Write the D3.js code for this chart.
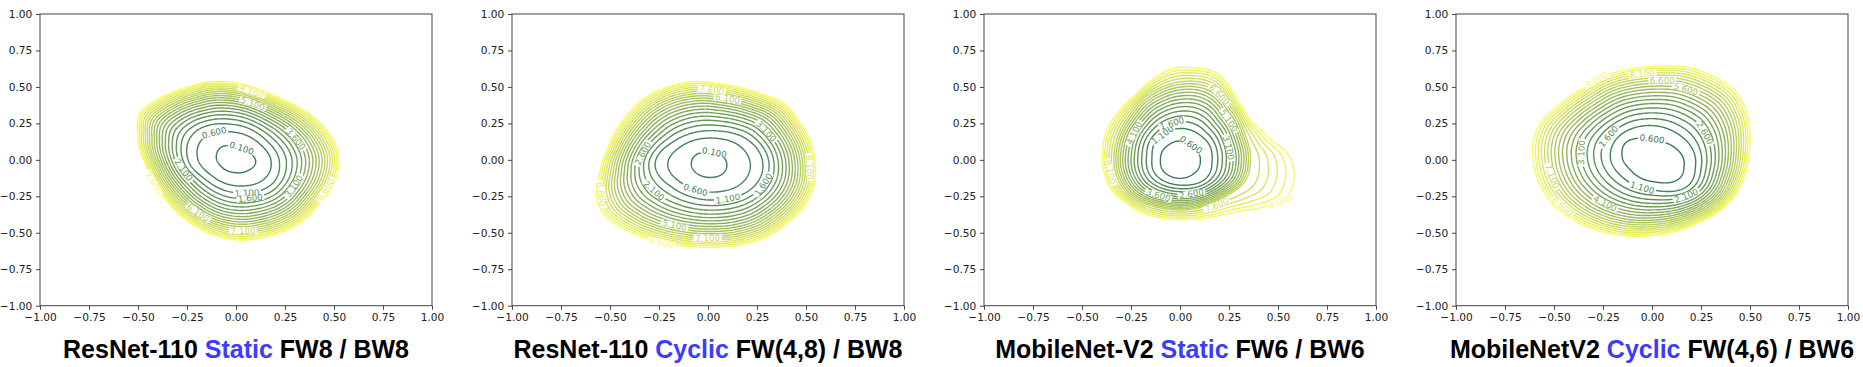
<!DOCTYPE html>
<html>
<head>
<meta charset="utf-8">
<script src="https://cdn.jsdelivr.net/npm/d3@7"></script>
<style>
  body { margin: 0; background: #fff; }
  svg { display: block; }
</style>
</head>
<body>
<svg id="chart" width="1863" height="367"></svg>
<script>
// contour levels and axis ticks
const levels = [0.1, 0.6, 1.1, 1.6, 2.1, 2.6, 3.1, 3.6, 4.1, 4.6, 5.1, 5.6, 6.1, 6.6, 7.1, 7.6, 8.1, 8.6, 9.1, 9.6];
const ticks = [-1, -0.75, -0.5, -0.25, 0, 0.25, 0.5, 0.75, 1];

// titles
const titlePre = ["ResNet-110 ", "ResNet-110 ", "MobileNet-V2 ", "MobileNetV2 "];
const titleMode = ["Static", "Cyclic", "Static", "Cyclic"];
const titlePost = [" FW8 / BW8", " FW(4,8) / BW8", " FW6 / BW6", " FW(4,6) / BW6"];

// centre of each landscape, lowest drawn level
const centers = [[0, 0], [0.01, -0.03], [0, 0], [0, 0]];
const minLevel = [0.1, 0.1, 0.6, 0.6];

// key contours (x, y in plot units)
const p1L01 = [[0.10,-0.02],[0.07,0.05],[0.0,0.09],[-0.07,0.09],[-0.10,0.03],[-0.08,-0.04],[-0.02,-0.085],[0.05,-0.08]];
const p1L11 = [[0.22,0.0],[0.15,0.14],[0.0,0.24],[-0.2,0.2],[-0.245,0.0],[-0.16,-0.13],[0.0,-0.225],[0.17,-0.18]];
const p1L96 = [[-0.116,0.536],[0.206,0.433],[0.393,0.296],[0.495,0.136],[0.526,0.022],[0.512,-0.115],[0.427,-0.298],
  [0.325,-0.435],[0.155,-0.527],[0.036,-0.55],[-0.116,-0.515],[-0.252,-0.413],[-0.371,-0.253],[-0.456,-0.047],
  [-0.499,0.182],[-0.49,0.319],[-0.405,0.41],[-0.252,0.497]];

const p2L01 = [[0.096,-0.03],[0.07,0.03],[0.0,0.055],[-0.065,0.03],[-0.085,-0.03],[-0.06,-0.09],[0.0,-0.12],[0.07,-0.10]];
const p2L11 = [[0.28,-0.03],[0.2,0.14],[0.03,0.2],[-0.17,0.13],[-0.27,-0.03],[-0.17,-0.2],[0.04,-0.275],[0.22,-0.2]];
const p2L96 = [[-0.569,-0.23],[-0.552,-0.093],[-0.509,0.09],[-0.432,0.273],[-0.313,0.433],[-0.176,0.513],[-0.04,0.536],
  [0.096,0.513],[0.267,0.456],[0.386,0.387],[0.471,0.25],[0.531,0.09],[0.548,-0.047],[0.54,-0.184],[0.488,-0.321],
  [0.403,-0.435],[0.301,-0.527],[0.164,-0.584],[0.011,-0.6],[-0.159,-0.584],[-0.313,-0.538],[-0.449,-0.458],[-0.534,-0.367]];

const p3L06 = [[0.104,0.0],[0.07,0.09],[0.0,0.13],[-0.07,0.09],[-0.1,0.0],[-0.075,-0.09],[0.0,-0.127],[0.075,-0.09]];
const p3L11 = [[0.164,0.0],[0.12,0.15],[0.01,0.215],[-0.1,0.16],[-0.143,0.02],[-0.11,-0.12],[0.0,-0.173],[0.12,-0.14]];
const p3L71 = [[0.36,0.0],[0.33,0.18],[0.26,0.36],[0.17,0.5],[0.05,0.54],[-0.12,0.48],[-0.26,0.3],[-0.33,0.1],
  [-0.33,-0.08],[-0.25,-0.25],[-0.1,-0.33],[0.05,-0.34],[0.22,-0.26],[0.33,-0.15]];
const p3L96 = [[0.053,0.632],[0.172,0.605],[0.24,0.525],[0.291,0.41],[0.359,0.273],[0.462,0.136],[0.547,0.045],
  [0.581,-0.07],[0.572,-0.184],[0.53,-0.275],[0.428,-0.321],[0.291,-0.355],[0.172,-0.39],[0.053,-0.408],
  [-0.083,-0.401],[-0.186,-0.367],[-0.271,-0.298],[-0.348,-0.207],[-0.39,-0.07],[-0.394,0.067],[-0.373,0.205],
  [-0.305,0.342],[-0.22,0.456],[-0.118,0.57],[-0.032,0.627]];

const p4L06 = [[0.163,-0.047],[0.078,0.113],[-0.025,0.147],[-0.127,0.125],[-0.153,0.033],[-0.11,-0.07],[0.009,-0.15],[0.129,-0.138]];
const p4L11 = [[0.222,-0.04],[0.16,0.15],[0.0,0.235],[-0.14,0.19],[-0.212,0.05],[-0.15,-0.12],[0.0,-0.205],[0.17,-0.19]];
const p4L96 = [[-0.604,0.136],[-0.57,0.25],[-0.485,0.365],[-0.366,0.479],[-0.229,0.582],[-0.093,0.627],[0.043,0.643],
  [0.18,0.634],[0.316,0.57],[0.419,0.479],[0.478,0.342],[0.5,0.182],[0.495,0.045],[0.47,-0.115],[0.419,-0.253],
  [0.35,-0.344],[0.248,-0.424],[0.112,-0.493],[-0.025,-0.522],[-0.178,-0.515],[-0.332,-0.458],[-0.451,-0.367],
  [-0.536,-0.253],[-0.588,-0.115],[-0.608,0.022]];

const panelKeys = [[0.1, 1.1, 9.6], [0.1, 1.1, 9.6], [0.6, 1.1, 7.1, 9.6], [0.6, 1.1, 9.6]];
const panelLines = [[p1L01, p1L11, p1L96], [p2L01, p2L11, p2L96], [p3L06, p3L11, p3L71, p3L96], [p4L06, p4L11, p4L96]];

// inline labels: [level, approx x, approx y]
const p1Labels = [[0.1,0.028,0.079],[0.6,-0.122,0.205],[1.1,0.057,-0.23],[1.6,0.074,-0.264],[2.1,-0.273,-0.07],
  [3.1,0.257,-0.157],[3.6,0.291,0.136],[5.1,0.1,0.45],[6.1,-0.16,-0.3],[7.1,0.03,-0.4],[8.1,0.08,0.47],[8.6,0.45,-0.2],[9.6,-0.4,-0.15]];
const p2Labels = [[0.1,0.037,0.067],[0.6,-0.074,-0.23],[1.1,0.105,-0.275],[1.6,0.267,-0.161],[2.1,-0.287,-0.218],
  [2.6,-0.338,0.045],[3.1,0.293,0.193],[5.1,-0.15,-0.4],[6.1,0.1,0.42],[7.1,0.0,-0.45],[7.6,0.02,0.5],[8.1,0.5,-0.05],[8.6,-0.45,-0.2],[9.6,-0.23,-0.55]];
const p3Labels = [[0.6,0.061,0.113],[1.1,-0.083,0.159],[1.6,-0.041,0.25],[2.6,0.05,-0.2],[3.1,0.3,0.1],[3.6,-0.1,-0.22],
  [4.1,-0.23,0.18],[5.1,0.26,0.28],[6.6,0.22,0.49],[7.6,0.2,-0.33],[8.1,-0.3,-0.07],[9.6,0.487,-0.275]];
const p4Labels = [[0.6,0.0,0.17],[1.1,-0.042,-0.161],[1.6,-0.221,0.159],[2.1,0.163,-0.23],[2.6,0.3,0.205],[3.1,-0.323,0.045],
  [4.1,-0.2,-0.25],[5.6,0.16,0.45],[6.6,0.05,0.52],[7.1,-0.45,-0.1],[8.1,-0.05,0.6],[8.6,-0.4,-0.28],[9.6,-0.28,0.547]];
const panelLabels = [p1Labels, p2Labels, p3Labels, p4Labels];

// layout
const plotW = 392, plotH = 291.7, plotTop = 14, step = 472, left0 = 40;
const svg = d3.select('#chart');

const x = d3.scaleLinear().domain([-1, 1]).range([0, plotW]);
const y = d3.scaleLinear().domain([-1, 1]).range([plotH, 0]);
const u = (l) => Math.pow(l, 0.4);

// smooth periodic radius profile around a centre
const makeProfile = (points, c) => {
  const pts = points
    .map(([px, py]) => ({ a: Math.atan2(py - c[1], px - c[0]), r: Math.hypot(px - c[0], py - c[1]) }))
    .sort((p, q) => p.a - q.a);
  const n = pts.length;
  return (a) => {
    let t = a;
    while (t < pts[0].a) t += 2 * Math.PI;
    while (t >= pts[0].a + 2 * Math.PI) t -= 2 * Math.PI;
    let i = n - 1;
    for (let k = 0; k < n - 1; k++) if (t >= pts[k].a && t < pts[k + 1].a) { i = k; break; }
    const a0 = pts[i].a, a1 = i === n - 1 ? pts[0].a + 2 * Math.PI : pts[i + 1].a;
    const s = (t - a0) / (a1 - a0);
    const r0 = pts[(i - 1 + n) % n].r, r1 = pts[i].r, r2 = pts[(i + 1) % n].r, r3 = pts[(i + 2) % n].r;
    return 0.5 * (2 * r1 + (-r0 + r2) * s + (2 * r0 - 5 * r1 + 4 * r2 - r3) * s * s + (-r0 + 3 * r1 - 3 * r2 + r3) * s * s * s);
  };
};

const line = d3.line().x((d) => x(d[0])).y((d) => y(d[1])).curve(d3.curveLinearClosed);
const angles = d3.range(0, 360, 1.5).map((d) => (d * Math.PI) / 180);

panelKeys.forEach((keys, p) => {
  const c = centers[p];
  const profiles = panelLines[p].map((pts) => makeProfile(pts, c));
  const radiusAt = (level, a) => {
    let k = 0;
    while (k < keys.length - 2 && level > keys[k + 1]) k++;
    const w = (u(level) - u(keys[k])) / (u(keys[k + 1]) - u(keys[k]));
    return profiles[k](a) * (1 - w) + profiles[k + 1](a) * w;
  };
  const pointAt = (level, a) => {
    const r = radiusAt(level, a);
    return [c[0] + r * Math.cos(a), c[1] + r * Math.sin(a)];
  };

  const shown = levels.filter((l) => l >= minLevel[p] - 1e-9);
  const color = d3.scaleLinear()
    .domain([shown[0], shown[shown.length - 1]])
    .range(['#3a7a57', '#fafa62'])
    .interpolate(d3.interpolateRgb);

  const g = svg.append('g').attr('transform', `translate(${left0 + step * p},${plotTop})`);

  // contour lines
  g.append('g')
    .selectAll('path')
    .data(shown.slice().reverse())
    .join('path')
    .attr('d', (l) => line(angles.map((a) => pointAt(l, a))))
    .attr('fill', 'none')
    .attr('stroke', (l) => color(l))
    .attr('stroke-width', 1.4);

  // inline labels
  const lab = g.append('g').attr('font-family', 'DejaVu Sans').attr('font-size', 8.7);
  panelLabels[p].forEach(([l, lx, ly]) => {
    const a = Math.atan2(ly - c[1], lx - c[0]);
    const pt = pointAt(l, a);
    const p0 = pointAt(l, a - 0.03), p1 = pointAt(l, a + 0.03);
    let rot = (Math.atan2(y(p1[1]) - y(p0[1]), x(p1[0]) - x(p0[0])) * 180) / Math.PI;
    if (rot > 90) rot -= 180;
    if (rot <= -90) rot += 180;
    const gl = lab.append('g').attr('transform', `translate(${x(pt[0])},${y(pt[1])}) rotate(${rot})`);
    const bg = gl.append('rect').attr('fill', '#fff');
    const t = gl.append('text')
      .attr('text-anchor', 'middle')
      .attr('dy', '0.36em')
      .attr('fill', color(l))
      .text(l.toFixed(3));
    const len = t.node().getComputedTextLength();
    bg.attr('x', -len / 2 - 1.5).attr('y', -3.2).attr('width', len + 3).attr('height', 6.4);
  });

  // axes
  const ax = g.append('g')
    .attr('transform', `translate(0,${plotH})`)
    .call(d3.axisBottom(x).tickValues(ticks).tickFormat(d3.format('.2f')).tickSize(4).tickPadding(3.3));
  const ay = g.append('g')
    .call(d3.axisLeft(y).tickValues(ticks).tickFormat(d3.format('.2f')).tickSize(4).tickPadding(3.7));
  [ax, ay].forEach((a) => {
    a.select('.domain').remove();
    a.selectAll('line').attr('stroke', '#444');
    a.selectAll('text').attr('fill', '#222').attr('font-family', 'DejaVu Sans').attr('font-size', 10.6);
  });

  g.append('rect')
    .attr('width', plotW).attr('height', plotH)
    .attr('fill', 'none').attr('stroke', '#444').attr('stroke-width', 1);

  // title
  const title = g.append('text')
    .attr('x', plotW / 2).attr('y', 358 - plotTop)
    .attr('text-anchor', 'middle')
    .attr('font-family', 'Liberation Sans, Arial, sans-serif')
    .attr('font-weight', 'bold')
    .attr('font-size', 25)
    .attr('fill', '#000');
  title.append('tspan').text(titlePre[p]);
  title.append('tspan').attr('fill', '#3c3cff').text(titleMode[p]);
  title.append('tspan').text(titlePost[p]);
});
</script>
</body>
</html>
